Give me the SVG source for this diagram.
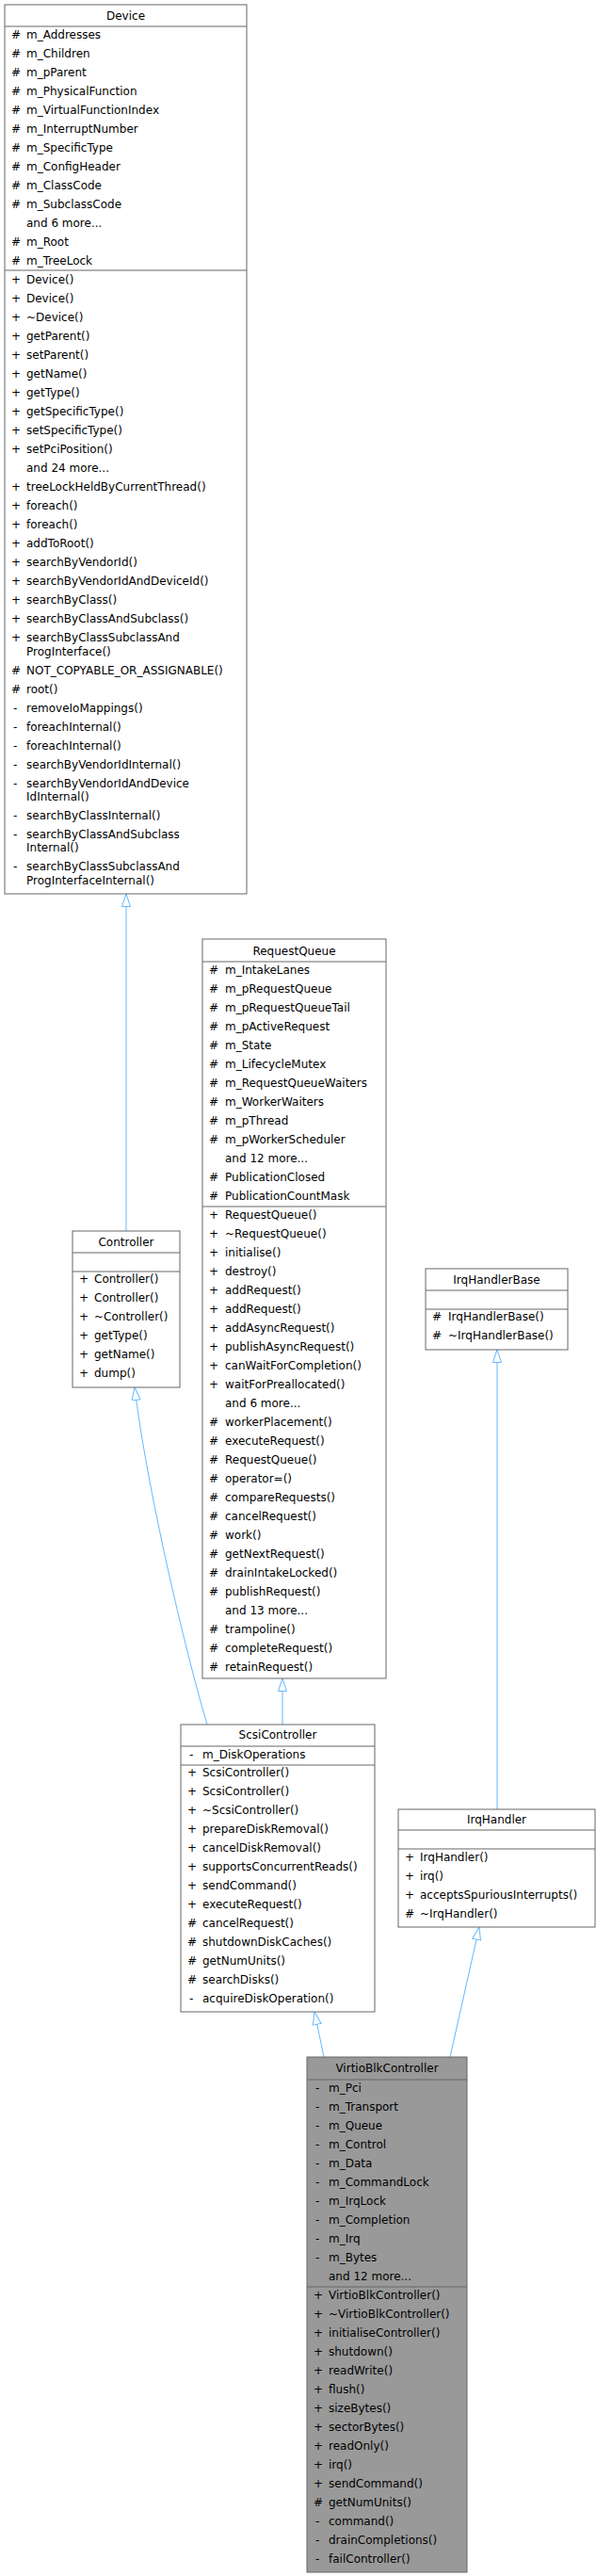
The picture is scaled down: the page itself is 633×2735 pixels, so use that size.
<svg xmlns="http://www.w3.org/2000/svg" width="633" height="2735" viewBox="0 0 633 2735">
<style>
text{font-family:"DejaVu Sans",sans-serif;font-size:12px;fill:#000}
.t{text-anchor:middle}
.b{fill:#fff;stroke:#666;stroke-width:1}
.g{fill:#999;stroke:#666;stroke-width:1}
.l{stroke:#666;stroke-width:1}
.e{fill:none;stroke:#63b8ff;stroke-width:1}
</style>
<defs>
<marker id="a" viewBox="0 0 14 10" refX="14" refY="5" markerUnits="userSpaceOnUse" markerWidth="14" markerHeight="10" orient="auto">
<path d="M0.5,0.5 L14,5 L0.5,9.5 z" fill="#fff" stroke="#63b8ff"/>
</marker>
</defs>
<g id="connectors">
<path class="e" d="M134,1307 L134,949" marker-end="url(#a)"/>
<path class="e" d="M220,1831 C196,1750 156,1580 143,1473" marker-end="url(#a)"/>
<path class="e" d="M300,1831 L300,1782" marker-end="url(#a)"/>
<path class="e" d="M528,1921 L528,1433" marker-end="url(#a)"/>
<path class="e" d="M344,2184 L334,2136" marker-end="url(#a)"/>
<path class="e" d="M478,2184 L509,2046" marker-end="url(#a)"/>
</g>
<g id="Device">
<rect class="b" x="5" y="5" width="257" height="944"/>
<line class="l" x1="5" y1="28" x2="262" y2="28"/><line class="l" x1="5" y1="287" x2="262" y2="287"/>
<text class="t" x="133.5" y="21">Device</text>
<text y="41"><tspan x="12">#</tspan><tspan x="28">m_Addresses</tspan></text>
<text y="61"><tspan x="12">#</tspan><tspan x="28">m_Children</tspan></text>
<text y="81"><tspan x="12">#</tspan><tspan x="28">m_pParent</tspan></text>
<text y="101"><tspan x="12">#</tspan><tspan x="28">m_PhysicalFunction</tspan></text>
<text y="121"><tspan x="12">#</tspan><tspan x="28">m_VirtualFunctionIndex</tspan></text>
<text y="141"><tspan x="12">#</tspan><tspan x="28">m_InterruptNumber</tspan></text>
<text y="161"><tspan x="12">#</tspan><tspan x="28">m_SpecificType</tspan></text>
<text y="181"><tspan x="12">#</tspan><tspan x="28">m_ConfigHeader</tspan></text>
<text y="201"><tspan x="12">#</tspan><tspan x="28">m_ClassCode</tspan></text>
<text y="221"><tspan x="12">#</tspan><tspan x="28">m_SubclassCode</tspan></text>
<text x="28" y="241">and 6 more...</text>
<text y="261"><tspan x="12">#</tspan><tspan x="28">m_Root</tspan></text>
<text y="281"><tspan x="12">#</tspan><tspan x="28">m_TreeLock</tspan></text>
<text y="301"><tspan x="12">+</tspan><tspan x="28">Device()</tspan></text>
<text y="321"><tspan x="12">+</tspan><tspan x="28">Device()</tspan></text>
<text y="341"><tspan x="12">+</tspan><tspan x="28">~Device()</tspan></text>
<text y="361"><tspan x="12">+</tspan><tspan x="28">getParent()</tspan></text>
<text y="381"><tspan x="12">+</tspan><tspan x="28">setParent()</tspan></text>
<text y="401"><tspan x="12">+</tspan><tspan x="28">getName()</tspan></text>
<text y="421"><tspan x="12">+</tspan><tspan x="28">getType()</tspan></text>
<text y="441"><tspan x="12">+</tspan><tspan x="28">getSpecificType()</tspan></text>
<text y="461"><tspan x="12">+</tspan><tspan x="28">setSpecificType()</tspan></text>
<text y="481"><tspan x="12">+</tspan><tspan x="28">setPciPosition()</tspan></text>
<text x="28" y="501">and 24 more...</text>
<text y="521"><tspan x="12">+</tspan><tspan x="28">treeLockHeldByCurrentThread()</tspan></text>
<text y="541"><tspan x="12">+</tspan><tspan x="28">foreach()</tspan></text>
<text y="561"><tspan x="12">+</tspan><tspan x="28">foreach()</tspan></text>
<text y="581"><tspan x="12">+</tspan><tspan x="28">addToRoot()</tspan></text>
<text y="601"><tspan x="12">+</tspan><tspan x="28">searchByVendorId()</tspan></text>
<text y="621"><tspan x="12">+</tspan><tspan x="28">searchByVendorIdAndDeviceId()</tspan></text>
<text y="641"><tspan x="12">+</tspan><tspan x="28">searchByClass()</tspan></text>
<text y="661"><tspan x="12">+</tspan><tspan x="28">searchByClassAndSubclass()</tspan></text>
<text y="681"><tspan x="12">+</tspan><tspan x="28">searchByClassSubclassAnd</tspan></text>
<text x="28" y="696">ProgInterface()</text>
<text y="716"><tspan x="12">#</tspan><tspan x="28">NOT_COPYABLE_OR_ASSIGNABLE()</tspan></text>
<text y="736"><tspan x="12">#</tspan><tspan x="28">root()</tspan></text>
<text y="756"><tspan x="14">-</tspan><tspan x="28">removeIoMappings()</tspan></text>
<text y="776"><tspan x="14">-</tspan><tspan x="28">foreachInternal()</tspan></text>
<text y="796"><tspan x="14">-</tspan><tspan x="28">foreachInternal()</tspan></text>
<text y="816"><tspan x="14">-</tspan><tspan x="28">searchByVendorIdInternal()</tspan></text>
<text y="836"><tspan x="14">-</tspan><tspan x="28">searchByVendorIdAndDevice</tspan></text>
<text x="28" y="850">IdInternal()</text>
<text y="870"><tspan x="14">-</tspan><tspan x="28">searchByClassInternal()</tspan></text>
<text y="890"><tspan x="14">-</tspan><tspan x="28">searchByClassAndSubclass</tspan></text>
<text x="28" y="904">Internal()</text>
<text y="924"><tspan x="14">-</tspan><tspan x="28">searchByClassSubclassAnd</tspan></text>
<text x="28" y="939">ProgInterfaceInternal()</text>
</g>
<g id="Controller">
<rect class="b" x="77" y="1307" width="114" height="166"/>
<line class="l" x1="77" y1="1330" x2="191" y2="1330"/><line class="l" x1="77" y1="1350" x2="191" y2="1350"/>
<text class="t" x="134" y="1323">Controller</text>
<text y="1362"><tspan x="84">+</tspan><tspan x="100">Controller()</tspan></text>
<text y="1382"><tspan x="84">+</tspan><tspan x="100">Controller()</tspan></text>
<text y="1402"><tspan x="84">+</tspan><tspan x="100">~Controller()</tspan></text>
<text y="1422"><tspan x="84">+</tspan><tspan x="100">getType()</tspan></text>
<text y="1442"><tspan x="84">+</tspan><tspan x="100">getName()</tspan></text>
<text y="1462"><tspan x="84">+</tspan><tspan x="100">dump()</tspan></text>
</g>
<g id="RequestQueue">
<rect class="b" x="215" y="997" width="195" height="785"/>
<line class="l" x1="215" y1="1021" x2="410" y2="1021"/><line class="l" x1="215" y1="1281" x2="410" y2="1281"/>
<text class="t" x="312.5" y="1014">RequestQueue</text>
<text y="1034"><tspan x="222">#</tspan><tspan x="239">m_IntakeLanes</tspan></text>
<text y="1054"><tspan x="222">#</tspan><tspan x="239">m_pRequestQueue</tspan></text>
<text y="1074"><tspan x="222">#</tspan><tspan x="239">m_pRequestQueueTail</tspan></text>
<text y="1094"><tspan x="222">#</tspan><tspan x="239">m_pActiveRequest</tspan></text>
<text y="1114"><tspan x="222">#</tspan><tspan x="239">m_State</tspan></text>
<text y="1134"><tspan x="222">#</tspan><tspan x="239">m_LifecycleMutex</tspan></text>
<text y="1154"><tspan x="222">#</tspan><tspan x="239">m_RequestQueueWaiters</tspan></text>
<text y="1174"><tspan x="222">#</tspan><tspan x="239">m_WorkerWaiters</tspan></text>
<text y="1194"><tspan x="222">#</tspan><tspan x="239">m_pThread</tspan></text>
<text y="1214"><tspan x="222">#</tspan><tspan x="239">m_pWorkerScheduler</tspan></text>
<text x="239" y="1234">and 12 more...</text>
<text y="1254"><tspan x="222">#</tspan><tspan x="239">PublicationClosed</tspan></text>
<text y="1274"><tspan x="222">#</tspan><tspan x="239">PublicationCountMask</tspan></text>
<text y="1294"><tspan x="222">+</tspan><tspan x="239">RequestQueue()</tspan></text>
<text y="1314"><tspan x="222">+</tspan><tspan x="239">~RequestQueue()</tspan></text>
<text y="1334"><tspan x="222">+</tspan><tspan x="239">initialise()</tspan></text>
<text y="1354"><tspan x="222">+</tspan><tspan x="239">destroy()</tspan></text>
<text y="1374"><tspan x="222">+</tspan><tspan x="239">addRequest()</tspan></text>
<text y="1394"><tspan x="222">+</tspan><tspan x="239">addRequest()</tspan></text>
<text y="1414"><tspan x="222">+</tspan><tspan x="239">addAsyncRequest()</tspan></text>
<text y="1434"><tspan x="222">+</tspan><tspan x="239">publishAsyncRequest()</tspan></text>
<text y="1454"><tspan x="222">+</tspan><tspan x="239">canWaitForCompletion()</tspan></text>
<text y="1474"><tspan x="222">+</tspan><tspan x="239">waitForPreallocated()</tspan></text>
<text x="239" y="1494">and 6 more...</text>
<text y="1514"><tspan x="222">#</tspan><tspan x="239">workerPlacement()</tspan></text>
<text y="1534"><tspan x="222">#</tspan><tspan x="239">executeRequest()</tspan></text>
<text y="1554"><tspan x="222">#</tspan><tspan x="239">RequestQueue()</tspan></text>
<text y="1574"><tspan x="222">#</tspan><tspan x="239">operator=()</tspan></text>
<text y="1594"><tspan x="222">#</tspan><tspan x="239">compareRequests()</tspan></text>
<text y="1614"><tspan x="222">#</tspan><tspan x="239">cancelRequest()</tspan></text>
<text y="1634"><tspan x="222">#</tspan><tspan x="239">work()</tspan></text>
<text y="1654"><tspan x="222">#</tspan><tspan x="239">getNextRequest()</tspan></text>
<text y="1674"><tspan x="222">#</tspan><tspan x="239">drainIntakeLocked()</tspan></text>
<text y="1694"><tspan x="222">#</tspan><tspan x="239">publishRequest()</tspan></text>
<text x="239" y="1714">and 13 more...</text>
<text y="1734"><tspan x="222">#</tspan><tspan x="239">trampoline()</tspan></text>
<text y="1754"><tspan x="222">#</tspan><tspan x="239">completeRequest()</tspan></text>
<text y="1774"><tspan x="222">#</tspan><tspan x="239">retainRequest()</tspan></text>
</g>
<g id="IrqHandlerBase">
<rect class="b" x="452" y="1347" width="151" height="86"/>
<line class="l" x1="452" y1="1370" x2="603" y2="1370"/><line class="l" x1="452" y1="1390" x2="603" y2="1390"/>
<text class="t" x="527.5" y="1363">IrqHandlerBase</text>
<text y="1402"><tspan x="459">#</tspan><tspan x="476">IrqHandlerBase()</tspan></text>
<text y="1422"><tspan x="459">#</tspan><tspan x="476">~IrqHandlerBase()</tspan></text>
</g>
<g id="IrqHandler">
<rect class="b" x="423" y="1921" width="209" height="125"/>
<line class="l" x1="423" y1="1943" x2="632" y2="1943"/><line class="l" x1="423" y1="1963" x2="632" y2="1963"/>
<text class="t" x="527.5" y="1936">IrqHandler</text>
<text y="1976"><tspan x="430">+</tspan><tspan x="446">IrqHandler()</tspan></text>
<text y="1996"><tspan x="430">+</tspan><tspan x="446">irq()</tspan></text>
<text y="2016"><tspan x="430">+</tspan><tspan x="446">acceptsSpuriousInterrupts()</tspan></text>
<text y="2036"><tspan x="430">#</tspan><tspan x="446">~IrqHandler()</tspan></text>
</g>
<g id="ScsiController">
<rect class="b" x="192" y="1831" width="206" height="305"/>
<line class="l" x1="192" y1="1854" x2="398" y2="1854"/><line class="l" x1="192" y1="1874" x2="398" y2="1874"/>
<text class="t" x="295" y="1846">ScsiController</text>
<text y="1867"><tspan x="201">-</tspan><tspan x="215">m_DiskOperations</tspan></text>
<text y="1886"><tspan x="199">+</tspan><tspan x="215">ScsiController()</tspan></text>
<text y="1906"><tspan x="199">+</tspan><tspan x="215">ScsiController()</tspan></text>
<text y="1926"><tspan x="199">+</tspan><tspan x="215">~ScsiController()</tspan></text>
<text y="1946"><tspan x="199">+</tspan><tspan x="215">prepareDiskRemoval()</tspan></text>
<text y="1966"><tspan x="199">+</tspan><tspan x="215">cancelDiskRemoval()</tspan></text>
<text y="1986"><tspan x="199">+</tspan><tspan x="215">supportsConcurrentReads()</tspan></text>
<text y="2006"><tspan x="199">+</tspan><tspan x="215">sendCommand()</tspan></text>
<text y="2026"><tspan x="199">+</tspan><tspan x="215">executeRequest()</tspan></text>
<text y="2046"><tspan x="199">#</tspan><tspan x="215">cancelRequest()</tspan></text>
<text y="2066"><tspan x="199">#</tspan><tspan x="215">shutdownDiskCaches()</tspan></text>
<text y="2086"><tspan x="199">#</tspan><tspan x="215">getNumUnits()</tspan></text>
<text y="2106"><tspan x="199">#</tspan><tspan x="215">searchDisks()</tspan></text>
<text y="2126"><tspan x="201">-</tspan><tspan x="215">acquireDiskOperation()</tspan></text>
</g>
<g id="VirtioBlkController">
<rect class="g" x="326" y="2184" width="170" height="547"/>
<line class="l" x1="326" y1="2208" x2="496" y2="2208"/><line class="l" x1="326" y1="2428" x2="496" y2="2428"/>
<text class="t" x="411" y="2200">VirtioBlkController</text>
<text y="2221"><tspan x="335">-</tspan><tspan x="349">m_Pci</tspan></text>
<text y="2241"><tspan x="335">-</tspan><tspan x="349">m_Transport</tspan></text>
<text y="2261"><tspan x="335">-</tspan><tspan x="349">m_Queue</tspan></text>
<text y="2281"><tspan x="335">-</tspan><tspan x="349">m_Control</tspan></text>
<text y="2301"><tspan x="335">-</tspan><tspan x="349">m_Data</tspan></text>
<text y="2321"><tspan x="335">-</tspan><tspan x="349">m_CommandLock</tspan></text>
<text y="2341"><tspan x="335">-</tspan><tspan x="349">m_IrqLock</tspan></text>
<text y="2361"><tspan x="335">-</tspan><tspan x="349">m_Completion</tspan></text>
<text y="2381"><tspan x="335">-</tspan><tspan x="349">m_Irq</tspan></text>
<text y="2401"><tspan x="335">-</tspan><tspan x="349">m_Bytes</tspan></text>
<text x="349" y="2421">and 12 more...</text>
<text y="2441"><tspan x="333">+</tspan><tspan x="349">VirtioBlkController()</tspan></text>
<text y="2461"><tspan x="333">+</tspan><tspan x="349">~VirtioBlkController()</tspan></text>
<text y="2481"><tspan x="333">+</tspan><tspan x="349">initialiseController()</tspan></text>
<text y="2501"><tspan x="333">+</tspan><tspan x="349">shutdown()</tspan></text>
<text y="2521"><tspan x="333">+</tspan><tspan x="349">readWrite()</tspan></text>
<text y="2541"><tspan x="333">+</tspan><tspan x="349">flush()</tspan></text>
<text y="2561"><tspan x="333">+</tspan><tspan x="349">sizeBytes()</tspan></text>
<text y="2581"><tspan x="333">+</tspan><tspan x="349">sectorBytes()</tspan></text>
<text y="2601"><tspan x="333">+</tspan><tspan x="349">readOnly()</tspan></text>
<text y="2621"><tspan x="333">+</tspan><tspan x="349">irq()</tspan></text>
<text y="2641"><tspan x="333">+</tspan><tspan x="349">sendCommand()</tspan></text>
<text y="2661"><tspan x="333">#</tspan><tspan x="349">getNumUnits()</tspan></text>
<text y="2681"><tspan x="335">-</tspan><tspan x="349">command()</tspan></text>
<text y="2701"><tspan x="335">-</tspan><tspan x="349">drainCompletions()</tspan></text>
<text y="2721"><tspan x="335">-</tspan><tspan x="349">failController()</tspan></text>
</g>
</svg>
